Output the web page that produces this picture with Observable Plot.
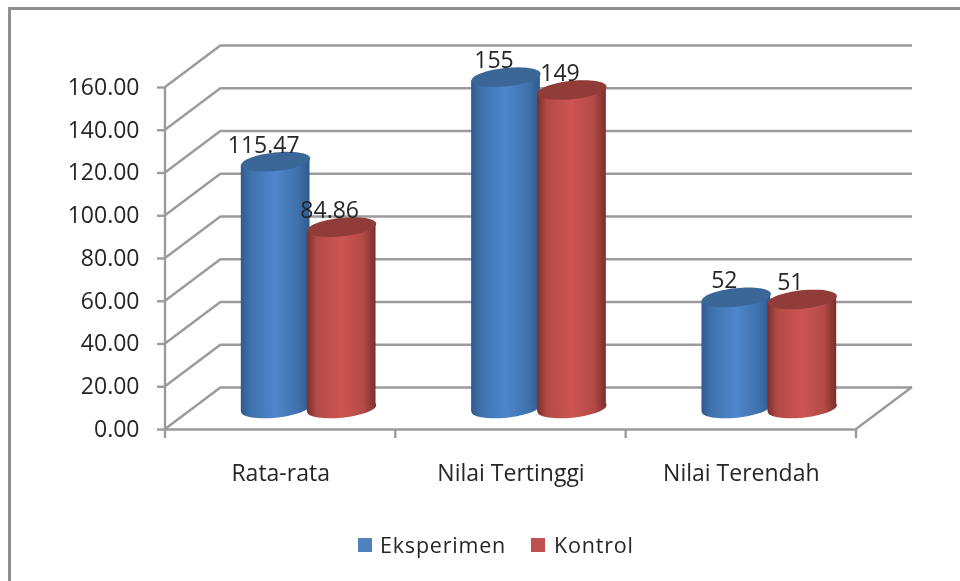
<!DOCTYPE html>
<html>
<head>
<meta charset="utf-8">
<script src="https://cdn.jsdelivr.net/npm/d3@7"></script>
<script src="https://cdn.jsdelivr.net/npm/@observablehq/plot@0.6"></script>
<style>
html,body{margin:0;padding:0;background:#fff;}
#wrap{position:relative;width:960px;height:581px;overflow:hidden;font-family:"Open Sans",sans-serif;color:#262626;}
#wrap svg{display:block;filter:blur(0.45px);}
.fl{position:absolute;background:#8f8f8f;filter:blur(0.4px);}
#legend{height:56px;position:relative;font-size:21.5px;letter-spacing:.8px;filter:blur(0.4px);}
#legend span{position:absolute;white-space:nowrap;line-height:28px;top:6px;}
#legend i{position:absolute;width:14px;height:14px;top:13px;}
</style>
</head>
<body>
<div id="wrap">
  <div class="fl" style="left:8px;top:7px;width:952px;height:2.5px"></div>
  <div class="fl" style="left:8px;top:7px;width:2.5px;height:574px"></div>
  <div id="chart"></div>
  <div id="legend"></div>
</div>
<script>
const categories = ["Rata-rata", "Nilai Tertinggi", "Nilai Terendah"];
const eksperimen = [115.47, 155, 52];
const kontrol = [84.86, 149, 51];
const labelsEksperimen = ["115.47", "155", "52"];
const labelsKontrol = ["84.86", "149", "51"];
const yTicks = [0, 20, 40, 60, 80, 100, 120, 140, 160];
const seriesNames = ["Eksperimen", "Kontrol"];

const rowsE = categories.map((c, i) => ({c, v: eksperimen[i], t: labelsEksperimen[i]}));
const rowsK = categories.map((c, i) => ({c, v: kontrol[i], t: labelsKontrol[i]}));

const depthX = 56, depthY = -42, wall = "#9b9b9b", ink = "#262626";
const midY = depthY / 2;
const tilt = -6 * Math.PI / 180;

// tilted ellipse used for the cylinder caps
const cap = {draw(ctx) {
  const a = 34.7, b = 9.2, n = 64;
  for (let k = 0; k < n; ++k) {
    const t = 2 * Math.PI * k / n, ex = a * Math.cos(t), ey = b * Math.sin(t);
    const px = ex * Math.cos(tilt) - ey * Math.sin(tilt), py = ex * Math.sin(tilt) + ey * Math.cos(tilt);
    k ? ctx.lineTo(px, py) : ctx.moveTo(px, py);
  }
  ctx.closePath();
}};

// shear the cylinder body so that its ends meet the tilted caps
const shear = (index, scales, values, dims, context, next) => {
  const g = next(index, scales, values, dims, context);
  d3.select(g).selectAll("rect").each(function () {
    const r = d3.select(this), cx = +r.attr("x") + +r.attr("width") / 2;
    r.attr("transform", `translate(${cx},0) skewY(${tilt * 180 / Math.PI}) translate(${-cx},0)`);
  });
  return g;
};

const gradient = (id, edge, mid, centre) => `<linearGradient id="${id}" x1="0" x2="1" y1="0" y2="0">
  <stop offset="0" stop-color="${edge}"/><stop offset="0.14" stop-color="${mid}"/>
  <stop offset="0.5" stop-color="${centre}"/><stop offset="0.82" stop-color="${mid}"/>
  <stop offset="1" stop-color="${edge}"/></linearGradient>`;

const defs = () => {
  const g = d3.create("svg:defs");
  g.html(gradient("gBlue", "#2f5b8e", "#3f72ad", "#4f86cc") + gradient("gRed", "#7a2f2c", "#b34a47", "#cd5452"));
  return g.node();
};

// side wall, floor edge and tick marks, all placed from the plot's scales
const walls = (index, {y}, values, {width, marginLeft, marginRight}) => {
  const right = width - marginRight, g = d3.create("svg:g")
    .attr("stroke", wall).attr("stroke-width", 2.4).attr("fill", "none");
  const seg = (x1, y1, x2, y2) => g.append("line").attr("x1", x1).attr("y1", y1).attr("x2", x2).attr("y2", y2);
  for (const t of yTicks) seg(marginLeft, y(t), marginLeft + depthX, y(t) + depthY);
  seg(marginLeft, y(0), marginLeft, y(yTicks[yTicks.length - 1]));
  seg(right, y(0), right + depthX, y(0) + depthY);
  categories.concat("").forEach((_, i) => {
    const x = marginLeft + i * (right - marginLeft) / categories.length;
    seg(x, y(0), x, y(0) + 9);
  });
  return g.node();
};

const cylinder = (rows, offset, grad, top) => {
  const common = {x: "c", dx: offset, dy: midY};
  return [
    Plot.dot(rows, {...common, y: () => 0, symbol: cap, fill: `url(#${grad})`}),
    Plot.barY(rows, {...common, y: "v", fill: `url(#${grad})`, insetLeft: 80.8, insetRight: 80.8, render: shear}),
    Plot.dot(rows, {...common, y: "v", symbol: cap, fill: top}),
    Plot.text(rows, {x: "c", y: "v", text: "t", dx: offset - 12, dy: -30, lineAnchor: "bottom",
      fontSize: 23, fill: ink, stroke: "none", style: {letterSpacing: ".9px"}})
  ];
};

const plot = Plot.plot({
  width: 960, height: 525,
  marginLeft: 165, marginRight: 104, marginTop: 87, marginBottom: 96,
  style: {fontFamily: '"Open Sans",sans-serif', background: "transparent", overflow: "visible"},
  x: {domain: categories, padding: 0, round: false, label: null},
  y: {domain: [0, 160], label: null},
  marks: [
    defs,
    Plot.ruleY(yTicks, {dx: depthX, dy: depthY, stroke: wall, strokeWidth: 2.4}),
    Plot.ruleY([0], {stroke: wall, strokeWidth: 2.4}),
    walls,
    Plot.axisY(yTicks, {tickSize: 8, tickPadding: 18, stroke: wall, strokeWidth: 2.4, color: ink,
      tickFormat: d => d.toFixed(2), fontSize: 23, label: null, style: {letterSpacing: "1.1px"}}),
    Plot.axisX(categories, {tickSize: 0, tickPadding: 35, fontSize: 23, color: ink, label: null, style: {letterSpacing: ".6px"}}),
    ...cylinder(rowsE, -5, "gBlue", "#3a6698"),
    ...cylinder(rowsK, 61, "gRed", "#923c39")
  ]
});
document.getElementById("chart").append(plot);

const legendColors = ["#4f81bd", "#c0504d"], swatchX = [358, 531], textX = [380, 554];
const legend = d3.select("#legend");
seriesNames.forEach((name, i) => {
  legend.append("i").style("left", swatchX[i] + "px").style("background", legendColors[i]);
  legend.append("span").style("left", textX[i] + "px").text(name);
});
</script>
</body>
</html>
